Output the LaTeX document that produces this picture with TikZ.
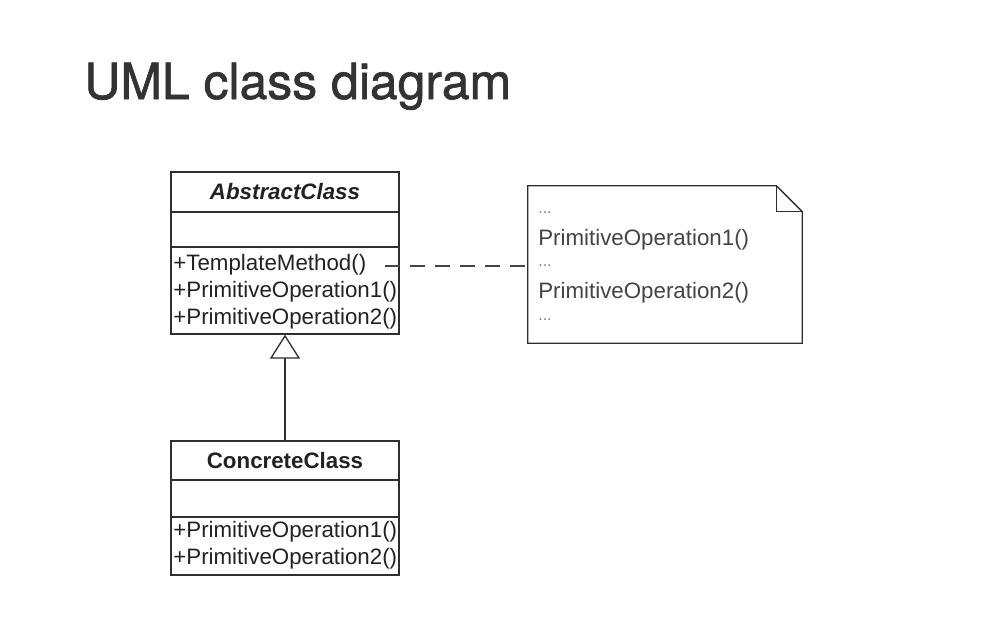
\documentclass[tikz,border=0pt]{standalone}
\usepackage{fontspec}
\setmainfont{Liberation Sans}
\newfontfamily\headfont[FakeBold=1.3]{TeX Gyre Heros}
\usetikzlibrary{arrows.meta,positioning}
\definecolor{ink}{HTML}{222222}
\definecolor{edge}{HTML}{2E2E2E}
\definecolor{memo}{HTML}{444444}
\definecolor{head}{HTML}{333333}

\tikzset{
  classbox/.style={draw=edge,line width=0.75pt,minimum width=4.56cm,
    inner sep=0pt,fill=white},
  member/.style={anchor=west,inner sep=0pt,text=ink,
    font=\fontsize{12.7}{15}\selectfont},
  classname/.style={inner sep=0pt,text=ink,
    font=\fontsize{12.7}{15}\selectfont\bfseries},
  memoline/.style={anchor=west,inner sep=0pt,text=memo,
    font=\fontsize{12.7}{15}\selectfont},
  memodots/.style={memoline,text=memo!70,font=\fontsize{9}{11}\selectfont},
}

\begin{document}
\begin{tikzpicture}[x=0.02cm,y=-0.02cm,>=Latex]
  \useasboundingbox (0,0) rectangle (994,632);
  \node[anchor=base west,inner sep=0pt,text=head,
    font=\headfont\fontsize{28.4}{32}\selectfont] (title) at (84,99)
    {UML class diagram};

  % Abstract class
  \node[classbox,minimum height=3.24cm] (abstract) at (285,253) {};
  \draw[edge,line width=0.75pt] (171,212) -- (399,212);
  \draw[edge,line width=0.75pt] (171,247) -- (399,247);
  \node[classname,font=\fontsize{12.7}{15}\selectfont\bfseries\itshape]
    (absname) at (285,192) {AbstractClass};
  \node[member] (tmpl) at (173,265) {+TemplateMethod()};
  \node[member] (absop1) at (173,292) {+PrimitiveOperation1()};
  \node[member] (absop2) at (173,319) {+PrimitiveOperation2()};

  % Concrete class
  \node[classbox,minimum height=2.68cm] (concrete) at (285,508) {};
  \draw[edge,line width=0.75pt] (171,480) -- (399,480);
  \draw[edge,line width=0.75pt] (171,517) -- (399,517);
  \node[classname] (conname) at (285,461) {ConcreteClass};
  \node[member] (conop1) at (173,532) {+PrimitiveOperation1()};
  \node[member] (conop2) at (173,559) {+PrimitiveOperation2()};

  % Note
  \node[minimum width=5.48cm,minimum height=3.14cm,inner sep=0pt]
    (note) at (665,264.5) {};
  \draw[edge,line width=0.75pt]
    (note.north west) -- ([xshift=-0.52cm]note.north east)
    -- ([yshift=-0.52cm]note.north east) -- (note.south east)
    -- (note.south west) -- cycle;
  \draw[edge,line width=0.75pt]
    ([xshift=-0.52cm]note.north east)
    -- ([xshift=-0.52cm,yshift=-0.52cm]note.north east)
    -- ([yshift=-0.52cm]note.north east);
  \node[memodots] (dots1) at (538,213) {...};
  \node[memoline] (noteop1) at (538,240) {PrimitiveOperation1()};
  \node[memodots] (dots2) at (538,266) {...};
  \node[memoline] (noteop2) at (538,293) {PrimitiveOperation2()};
  \node[memodots] (dots3) at (538,320) {...};

  % Connectors
  \coordinate (anchorpt) at (385,266);
  \draw[memo,line width=0.9pt,dash pattern=on 0.3cm off 0.2cm]
    (anchorpt) -- (anchorpt -| note.west);
  \draw[edge,line width=0.75pt,
    -{Triangle[open,length=0.48cm,width=0.6cm,fill=white]}]
    (concrete.north) -- (abstract.south);
\end{tikzpicture}
\end{document}
